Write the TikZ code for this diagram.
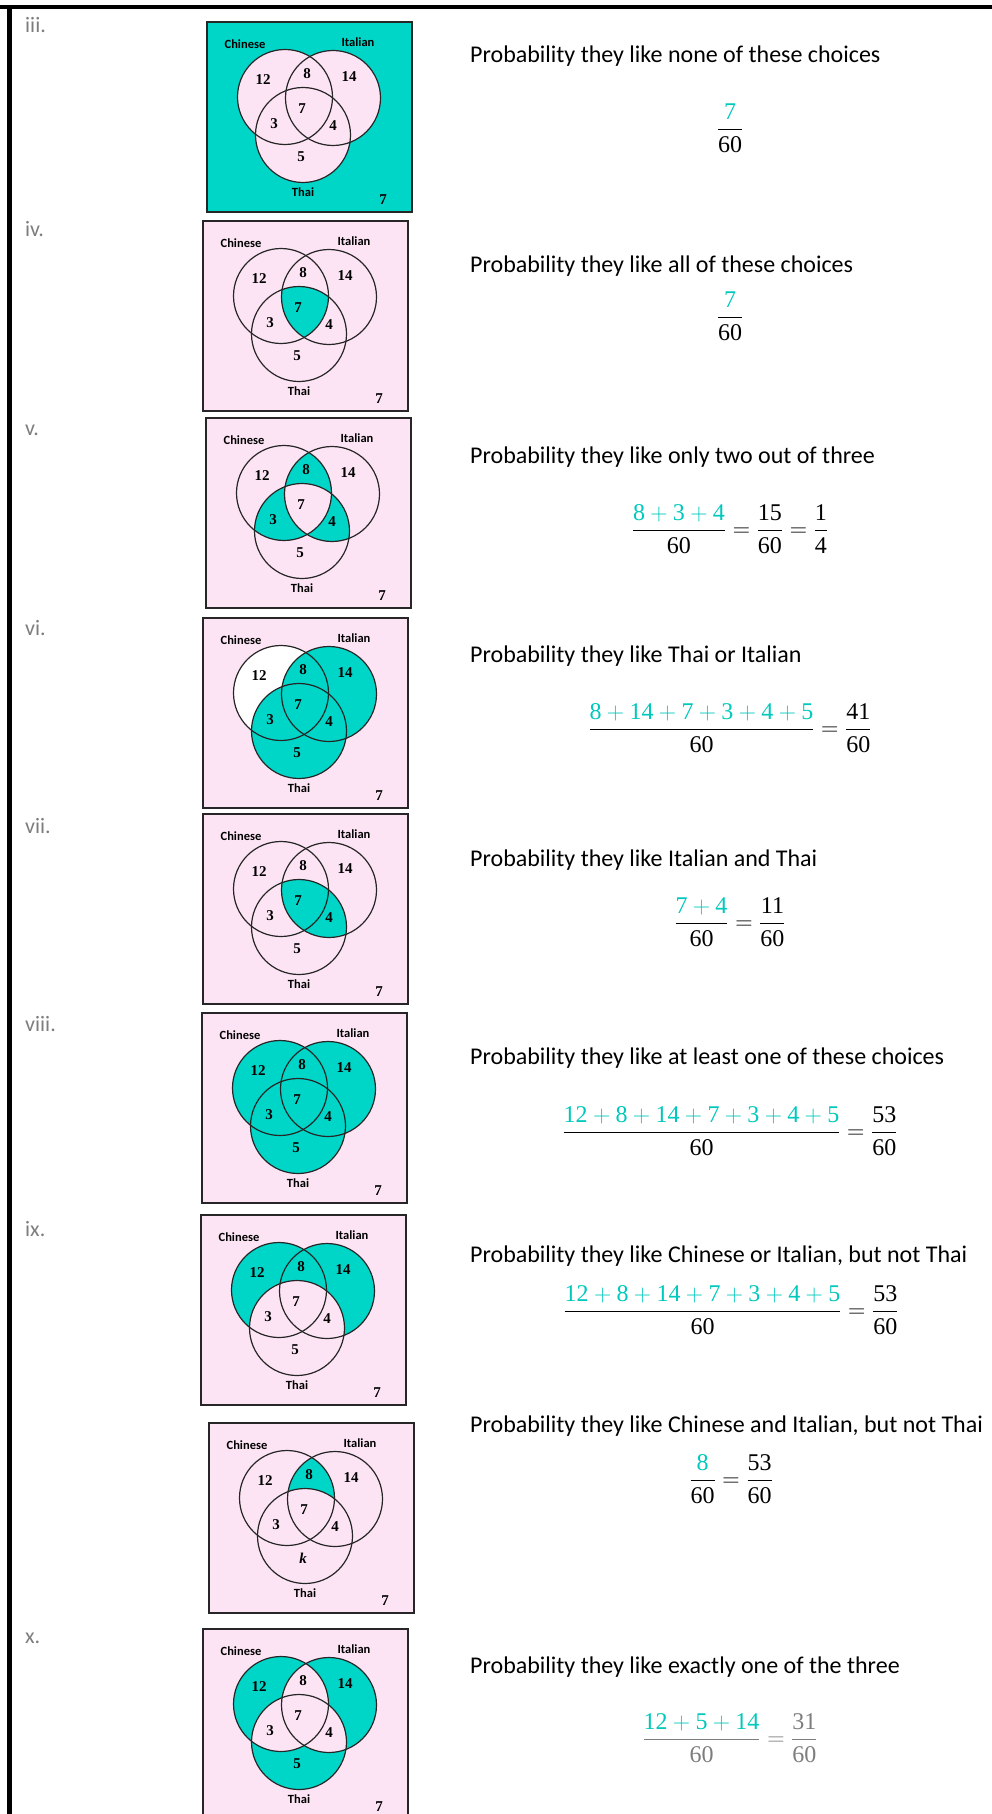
\RequirePackage{fix-cm}
\documentclass[tikz,border=0pt]{standalone}
\usepackage{amsmath}
\usepackage{fontspec}
\setmainfont{Carlito}
\newfontfamily\numfont{Liberation Serif}
\usepackage{tikz}
\usetikzlibrary{positioning}
\definecolor{vteal}{RGB}{0,214,200}
\definecolor{mteal}{RGB}{0,200,188}
\definecolor{vpink}{RGB}{252,228,244}
\definecolor{labgray}{RGB}{125,125,125}
\newcommand{\tl}[1]{\textcolor{mteal}{#1}}
\newcommand{\nn}[1]{\text{\numfont #1}}
% the three circles of one box
\newcommand{\circC}{(78,75) circle (47.5pt)}
\newcommand{\circI}{(126,76) circle (47.5pt)}
\newcommand{\circT}{(96,113) circle (47.5pt)}
% one Venn box: name, x, y, shading, bottom number
\newcommand{\vennbox}[5]{%
  \begin{scope}[shift={(#2,#3)}]
    \fill[vpink] (0,0) rectangle (205,190);
    #4
    \draw[circ] \circC; \draw[circ] \circI; \draw[circ] \circT;
    \draw[boxline] (0,0) rectangle (205,190);
    \node[setlab] (#1-chin) at (38,22) {Chinese};
    \node[setlab] (#1-ital) at (151,20) {Italian};
    \node[setlab] (#1-thai) at (96,170) {Thai};
    \node[num] (#1-out) at (176,178) {7};
    \node[num] (#1-c) at (56,58) {12};
    \node[num] (#1-ci) at (100,52) {8};
    \node[num] (#1-i) at (142,55) {14};
    \node[num] (#1-cit) at (95,87) {7};
    \node[num] (#1-ct) at (67,102) {3};
    \node[num] (#1-it) at (126,104) {4};
    \node[num] (#1-t) at (94,135) {#5};
  \end{scope}}

\begin{document}
\begin{tikzpicture}[x=1pt, y=-1pt,
    circ/.style={line width=1.2pt, black!85},
    boxline/.style={line width=2pt, black!85},
    setlab/.style={font=\fontsize{12.5}{14}\selectfont\bfseries, inner sep=0pt},
    num/.style={font=\numfont\fontsize{15}{17}\selectfont\bfseries, inner sep=0pt},
    rowlab/.style={font=\fontsize{22}{26}\selectfont, text=labgray, anchor=base west, inner sep=0pt},
    qtext/.style={font=\fontsize{24}{28}\selectfont, anchor=base west, inner sep=0pt},
    eqn/.style={font=\fontsize{24}{28}\selectfont, inner sep=0pt}]
  \useasboundingbox (0,0) rectangle (992,1814);
  % page frame
  \draw[line width=4pt] (0,7) -- (992,7);
  \draw[line width=5pt] (9.5,5) -- (9.5,1814);
  % row labels
  \node[rowlab] (l3) at (25,33) {iii.};
  \node[rowlab] (l4) at (25,236) {iv.};
  \node[rowlab] (l5) at (25,435) {v.};
  \node[rowlab] (l6) at (25,635) {vi.};
  \node[rowlab] (l7) at (25,833) {vii.};
  \node[rowlab] (l8) at (25,1031) {viii.};
  \node[rowlab] (l9) at (25,1236) {ix.};
  \node[rowlab] (l10) at (25,1643) {x.};
  % Venn boxes
  \vennbox{v3}{207}{22}{\fill[vteal] (0,0) rectangle (205,190);
    \fill[vpink] \circC; \fill[vpink] \circI; \fill[vpink] \circT;}{5}
  \vennbox{v4}{203}{221}{\begin{scope}\clip \circC; \clip \circI; \fill[vteal] \circT;\end{scope}}{5}
  \vennbox{v5}{206}{418}{\begin{scope}\clip \circC; \fill[vteal] \circI; \fill[vteal] \circT;\end{scope}
    \begin{scope}\clip \circI; \fill[vteal] \circT;\end{scope}
    \begin{scope}\clip \circC; \clip \circI; \fill[vpink] \circT;\end{scope}}{5}
  \vennbox{v6}{203}{618}{\fill[white] \circC; \fill[vteal] \circI; \fill[vteal] \circT;}{5}
  \vennbox{v7}{203}{814}{\begin{scope}\clip \circI; \fill[vteal] \circT;\end{scope}}{5}
  \vennbox{v8}{202}{1013}{\fill[vteal] \circC; \fill[vteal] \circI; \fill[vteal] \circT;}{5}
  \vennbox{v9}{201}{1215}{\fill[vteal] \circC; \fill[vteal] \circI; \fill[vpink] \circT;}{5}
  \vennbox{vk}{209}{1423}{\begin{scope}\clip \circC; \fill[vteal] \circI;\end{scope}
    \fill[vpink] \circT;}{\itshape k}
  \vennbox{v10}{203}{1629}{\fill[vteal] \circC; \fill[vteal] \circI; \fill[vteal] \circT;
    \begin{scope}\clip \circC; \fill[vpink] \circI; \fill[vpink] \circT;\end{scope}
    \begin{scope}\clip \circI; \fill[vpink] \circT;\end{scope}}{5}
  % questions
  \node[qtext] (q3) at (470,63) {Probability they like none of these choices};
  \node[qtext] (q4) at (470,272) {Probability they like all of these choices};
  \node[qtext] (q5) at (470,463) {Probability they like only two out of three};
  \node[qtext] (q6) at (470,662) {Probability they like Thai or Italian};
  \node[qtext] (q7) at (470,866) {Probability they like Italian and Thai};
  \node[qtext] (q8) at (470,1064) {Probability they like at least one of these choices};
  \node[qtext] (q9) at (470,1262) {Probability they like Chinese or Italian, but not Thai};
  \node[qtext] (qk) at (470,1432) {Probability they like Chinese and Italian, but not Thai};
  \node[qtext] (q10) at (470,1673) {Probability they like exactly one of the three};
  % answers
  \node[eqn] (a3) at (730,128) {$\dfrac{\tl{\nn{7}}}{\nn{60}}$};
  \node[eqn] (a4) at (730,316) {$\dfrac{\tl{\nn{7}}}{\nn{60}}$};
  \node[eqn] (a5) at (730,529) {$\dfrac{\tl{\nn{8}+\nn{3}+\nn{4}}}{\nn{60}}=\dfrac{\nn{15}}{\nn{60}}=\dfrac{\nn{1}}{\nn{4}}$};
  \node[eqn] (a6) at (730,728) {$\dfrac{\tl{\nn{8}+\nn{14}+\nn{7}+\nn{3}+\nn{4}+\nn{5}}}{\nn{60}}=\dfrac{\nn{41}}{\nn{60}}$};
  \node[eqn] (a7) at (730,922) {$\dfrac{\tl{\nn{7}+\nn{4}}}{\nn{60}}=\dfrac{\nn{11}}{\nn{60}}$};
  \node[eqn] (a8) at (730,1131) {$\dfrac{\tl{\nn{12}+\nn{8}+\nn{14}+\nn{7}+\nn{3}+\nn{4}+\nn{5}}}{\nn{60}}=\dfrac{\nn{53}}{\nn{60}}$};
  \node[eqn] (a9) at (731,1310) {$\dfrac{\tl{\nn{12}+\nn{8}+\nn{14}+\nn{7}+\nn{3}+\nn{4}+\nn{5}}}{\nn{60}}=\dfrac{\nn{53}}{\nn{60}}$};
  \node[eqn] (ak) at (731,1479) {$\dfrac{\tl{\nn{8}}}{\nn{60}}=\dfrac{\nn{53}}{\nn{60}}$};
  \node[eqn, text=labgray] (a10) at (730,1738) {$\dfrac{\tl{\nn{12}+\nn{5}+\nn{14}}}{\nn{60}}=\dfrac{\nn{31}}{\nn{60}}$};
\end{tikzpicture}
\end{document}
